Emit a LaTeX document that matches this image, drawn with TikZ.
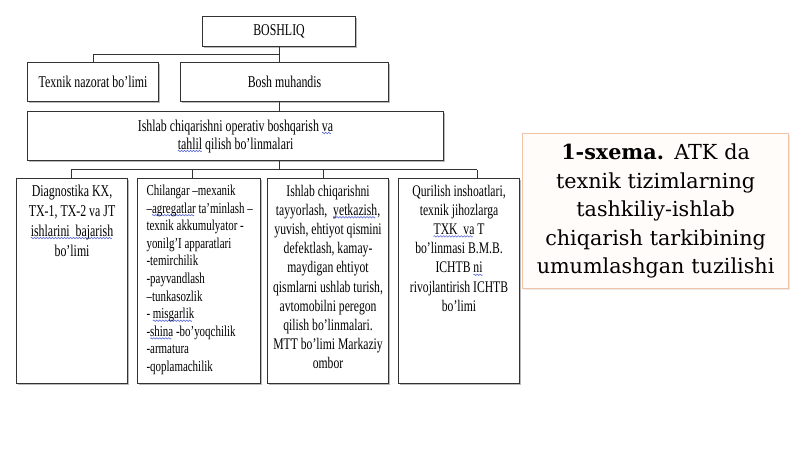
\documentclass[tikz,border=0pt]{standalone}
\usepackage{fontspec}
\usetikzlibrary{shadows}
\newfontfamily\cf[FakeStretch=0.72]{Liberation Serif}
\newfontfamily\capfont{DejaVu Serif}
\definecolor{linec}{HTML}{333333}
\definecolor{capborder}{HTML}{EEC3A8}
\definecolor{capfill}{HTML}{FFFCF9}
\definecolor{wavec}{HTML}{4F60D8}
\newsavebox\wavebox
\newcommand\wv[1]{\leavevmode\setbox0\hbox{#1}\rlap{\lower3pt\hbox to\wd0{\leaders\copy\wavebox\hfill}}\box0\relax}
\newcommand\fl[1]{\rule{0pt}{#1}}
\tikzset{
  box/.style={draw=linec, line width=1.1pt, fill=white, inner sep=0pt, anchor=north west,
    drop shadow={shadow xshift=1pt, shadow yshift=-1pt, fill=black!45, opacity=.6}},
  conn/.style={draw=linec, line width=1pt},
  capbox/.style={draw=capborder, line width=1.2pt, fill=capfill, anchor=north west,
    minimum width=266pt, minimum height=155pt, inner sep=0pt, text width=262pt, align=center,
    font=\capfont\fontsize{20.7}{28.5}\selectfont,
    drop shadow={shadow xshift=1pt, shadow yshift=-1pt, fill=black!20, opacity=.4}}
}
\begin{document}
\sbox\wavebox{\pgfpicture
  \pgfpathrectangle{\pgfpoint{0pt}{-1pt}}{\pgfpoint{3pt}{2pt}}\pgfusepath{use as bounding box}
  \pgfsetcolor{wavec}\pgfsetlinewidth{0.55pt}
  \pgfpathmoveto{\pgfpoint{0pt}{0pt}}
  \pgfpathsine{\pgfpoint{0.75pt}{0.7pt}}
  \pgfpathcosine{\pgfpoint{0.75pt}{-0.7pt}}
  \pgfpathsine{\pgfpoint{0.75pt}{-0.7pt}}
  \pgfpathcosine{\pgfpoint{0.75pt}{0.7pt}}
  \pgfusepath{stroke}
\endpgfpicture}%
\begin{tikzpicture}[x=1pt,y=-1pt]
\useasboundingbox[fill=white] (0,0) rectangle (800,449);
\cf
% top level
\node[box] (boss) at (202,16) {\parbox[c][30pt][c]{153pt}{\centering\fontsize{16.5}{19}\selectfont BOSHLIQ}};
\node[box] (tex) at (27,62) {\parbox[c][39pt][c]{131pt}{\centering\fontsize{16.5}{19}\selectfont Texnik nazorat bo’limi}};
\node[box] (bosh) at (180,62) {\parbox[c][39pt][c]{208pt}{\centering\fontsize{16.5}{19}\selectfont Bosh muhandis}};
\node[box] (ish) at (27,111) {\parbox[c][49pt][c]{416pt}{\centering\fontsize{16.5}{18}\selectfont Ishlab chiqarishni operativ boshqarish \wv{va}\\ \wv{tahlil} qilish bo’linmalari}};
% bottom boxes
\node[box] (b1) at (16,178) {\parbox[c][205pt][t]{111pt}{\centering\fontsize{16.5}{20}\selectfont
  \fl{17.5pt}Diagnostika KX,\\ TX-1, TX-2 va JT\\ \wv{ishlarini\ \ bajarish}\\ bo’limi}};
\node[box] (b2) at (137,178) {\parbox[c][205pt][t]{123pt}{\raggedright\leftskip=9pt\relax\fontsize{15.2}{17.6}\selectfont
  \fl{17pt}Chilangar –mexanik\\ –\wv{agregatlar} ta’minlash –\\ texnik akkumulyator -\\ yonilg’I apparatlari\\ -temirchilik\\ -payvandlash\\ –tunkasozlik\\ - \wv{misgarlik}\\ -\wv{shina} -bo’yoqchilik\\ -armatura\\ -qoplamachilik}};
\node[box] (b3) at (267,178) {\parbox[c][205pt][t]{121pt}{\centering\fontsize{16.2}{19.2}\selectfont
  \fl{17.5pt}Ishlab chiqarishni\\ tayyorlash,\ \ \wv{yetkazish},\\ yuvish, ehtiyot qismini\\ defektlash, kamay-\\ maydigan ehtiyot\\ qismlarni ushlab turish,\\ avtomobilni peregon\\ qilish bo’linmalari.\\ MTT bo’limi Markaziy\\ ombor}};
\node[box] (b4) at (398,178) {\parbox[c][205pt][t]{121pt}{\centering\fontsize{16.2}{19.2}\selectfont
  \fl{17.5pt}Qurilish inshoatlari,\\ texnik jihozlarga\\ \wv{TXK\ \ va} T\\ bo’linmasi B.M.B.\\ ICHTB \wv{ni}\\ rivojlantirish ICHTB\\ bo’limi}};
% caption
\node[capbox] (cap) at (522,133) {\textbf{1-sxema.} ATK da\\ texnik tizimlarning\\ tashkiliy-ishlab\\ chiqarish tarkibining\\ umumlashgan tuzilishi};
% connectors
\coordinate (j1) at (279,55);
\coordinate (j2) at (279,170);
\draw[conn] (boss.south -| j1) -- (j1 |- bosh.north);
\draw[conn] (j1) -| (tex.north);
\draw[conn] (j1 |- bosh.south) -- (j1 |- ish.north);
\draw[conn] (j1 |- ish.south) -- (j2);
\coordinate (c1) at (71,170);
\coordinate (c2) at (192,170);
\coordinate (c3) at (323,170);
\coordinate (c4) at (477,170);
\draw[conn] (c1) -- (c4);
\draw[conn] (c1) -- (c1 |- b1.north);
\draw[conn] (c2) -- (c2 |- b2.north);
\draw[conn] (c3) -- (c3 |- b3.north);
\draw[conn] (c4) -- (c4 |- b4.north);
\end{tikzpicture}
\end{document}
